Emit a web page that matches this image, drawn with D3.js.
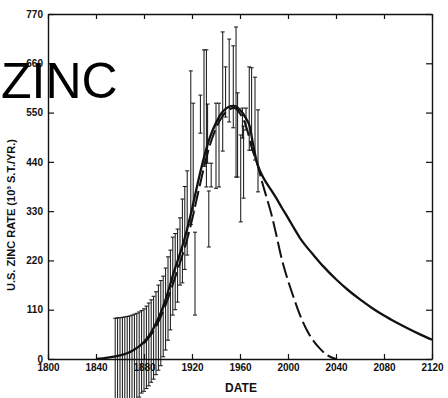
<!DOCTYPE html>
<html>
<head>
<meta charset="utf-8">
<script src="https://cdn.jsdelivr.net/npm/d3@7"></script>
<style>
  body { margin: 0; background: #fff; }
  svg { display: block; }
  .tick text { font-family: "Liberation Sans", Arial, sans-serif; font-weight: bold; font-size: 10px; fill: #111; }
</style>
</head>
<body>
<svg id="chart" width="448" height="398"></svg>
<script>
// tick labels
const xTicks = [1800, 1840, 1880, 1920, 1960, 2000, 2040, 2080, 2120];
const yTicks = [0, 110, 220, 330, 440, 550, 660, 770];

// smooth fitted curve (solid)
const solidYears = [1840, 1850, 1860, 1870, 1880, 1885, 1890, 1895, 1900, 1905, 1910, 1915, 1920, 1925, 1930, 1935, 1940, 1945, 1950, 1955, 1960, 1965, 1968, 1971, 1974, 1977, 1980, 1986, 1990, 1995, 2000, 2005, 2010, 2015, 2020, 2030, 2040, 2050, 2060, 2070, 2080, 2090, 2100, 2110, 2120];
const solidRate = [0, 3, 8, 18, 38, 55, 80, 110, 150, 195, 235, 280, 335, 395, 450, 495, 527, 550, 562, 565, 556, 537, 520, 478, 440, 418, 402, 377, 360, 337, 315, 292, 270, 252, 236, 205, 178, 154, 133, 114, 97, 82, 68, 55, 43];

// second curve (dashed)
const dashedYears = [1880, 1890, 1900, 1905, 1910, 1915, 1920, 1925, 1930, 1935, 1940, 1945, 1950, 1955, 1960, 1965, 1970, 1975, 1978, 1982, 1986, 1990, 1995, 2000, 2005, 2010, 2015, 2020, 2027, 2033, 2040];
const dashedRate = [35, 72, 135, 175, 215, 258, 310, 370, 428, 478, 515, 540, 555, 560, 548, 520, 470, 430, 399, 362, 325, 280, 221, 175, 135, 98, 68, 45, 22, 8, 0];

// error bars: year, low, high
const barYears = [1856, 1858, 1860, 1862, 1864, 1866, 1868, 1870, 1872, 1874, 1876, 1878, 1880, 1882, 1884, 1886, 1888, 1890, 1892, 1894,
  1896, 1898, 1900, 1902, 1904, 1906, 1908, 1910, 1912, 1914, 1916, 1919, 1921, 1922.5, 1927, 1930, 1932, 1933, 1934, 1936,
  1940, 1942.5, 1945.6, 1948, 1951, 1954.4, 1956.7, 1958, 1960.6, 1962, 1963, 1965, 1967.7, 1969.7, 1972.5, 1975];
const barLow = [-120, -120, -120, -120, -120, -120, -120, -120, -115, -100, -85, -76, -72, -66, -60, -52, -45, -35, -25, -15,
  5, 20, 42, 65, 98, 110, 127, 165, 170, 200, 232, 300, 330, 98, 504, 430, 384, 437, 250, 384,
  381, 384, 464, 540, 529, 516, 406, 406, 306, 493, 359, 511, 466, 466, 444, 373];
const barHigh = [91, 92, 92, 93, 94, 95, 96, 98, 100, 102, 105, 108, 112, 118, 125, 132, 140, 150, 165, 175,
  185, 203, 228, 243, 272, 280, 290, 315, 357, 385, 420, 643, 571, 283, 589, 690, 690, 569, 375, 437,
  571, 571, 730, 652, 714, 699, 741, 594, 500, 560, 520, 560, 652, 650, 629, 556];

const svg = d3.select("#chart");
const ink = "#111";

const x = d3.scaleLinear().domain([1800, 2120]).range([48, 432]);
const y = d3.scaleLinear().domain([0, 770]).range([359, 14]);

// frame with inward ticks
svg.append("g")
  .attr("transform", "translate(0,359)")
  .call(d3.axisBottom(x).tickValues(xTicks).tickFormat(d3.format("d")).tickSize(-5).tickSizeOuter(0).tickPadding(5));
svg.append("g")
  .attr("transform", "translate(0,14)")
  .call(d3.axisTop(x).tickValues(xTicks).tickFormat("").tickSize(-5).tickSizeOuter(0));
svg.append("g")
  .attr("transform", "translate(48,0)")
  .call(d3.axisLeft(y).tickValues(yTicks).tickSize(-6).tickSizeOuter(0).tickPadding(5));
svg.append("g")
  .attr("transform", "translate(432,0)")
  .call(d3.axisRight(y).tickValues(yTicks).tickFormat("").tickSize(-6).tickSizeOuter(0));

svg.selectAll(".domain").attr("stroke", ink).attr("stroke-width", 1.4);
svg.selectAll(".tick line").attr("stroke", ink).attr("stroke-width", 1.2);

// error bars
const bars = barYears.map((yr, i) => ({ yr: yr, lo: barLow[i], hi: barHigh[i] }));
const eb = svg.append("g").attr("stroke", ink).attr("stroke-width", 1);
eb.selectAll("line.v").data(bars).enter().append("line")
  .attr("class", "v")
  .attr("x1", d => x(d.yr)).attr("x2", d => x(d.yr))
  .attr("y1", d => y(d.lo)).attr("y2", d => y(d.hi));
eb.selectAll("line.top").data(bars).enter().append("line")
  .attr("class", "top")
  .attr("x1", d => x(d.yr) - 2).attr("x2", d => x(d.yr) + 2)
  .attr("y1", d => y(d.hi)).attr("y2", d => y(d.hi));
eb.selectAll("line.bot").data(bars).enter().append("line")
  .attr("class", "bot")
  .attr("x1", d => x(d.yr) - 2).attr("x2", d => x(d.yr) + 2)
  .attr("y1", d => y(d.lo)).attr("y2", d => y(d.lo));

// curves
const line = d3.line().x(d => x(d[0])).y(d => y(d[1])).curve(d3.curveMonotoneX);
svg.append("path")
  .datum(solidYears.map((yr, i) => [yr, solidRate[i]]))
  .attr("d", line)
  .attr("fill", "none").attr("stroke", ink).attr("stroke-width", 2.3);
svg.append("path")
  .datum(dashedYears.map((yr, i) => [yr, dashedRate[i]]))
  .attr("d", line)
  .attr("fill", "none").attr("stroke", ink).attr("stroke-width", 2)
  .attr("stroke-dasharray", "16,5");

// axis titles
svg.append("text")
  .attr("transform", "translate(15,215) rotate(-90)")
  .attr("text-anchor", "middle")
  .style("font-family", "Liberation Sans, Arial, sans-serif")
  .style("font-weight", "bold").style("font-size", "11px").attr("fill", ink)
  .text("U.S. ZINC RATE (10³ S.T./YR.)");
svg.append("text")
  .attr("x", 241).attr("y", 392)
  .attr("text-anchor", "middle")
  .style("font-family", "Liberation Sans, Arial, sans-serif")
  .style("font-weight", "bold").style("font-size", "12px").attr("fill", ink)
  .text("DATE");

// big title over the axis
svg.append("text")
  .attr("x", 1).attr("y", 98)
  .style("font-family", "Liberation Sans, Arial, sans-serif")
  .style("font-size", "50px").attr("fill", "#000")
  .text("ZINC");
</script>
</body>
</html>
